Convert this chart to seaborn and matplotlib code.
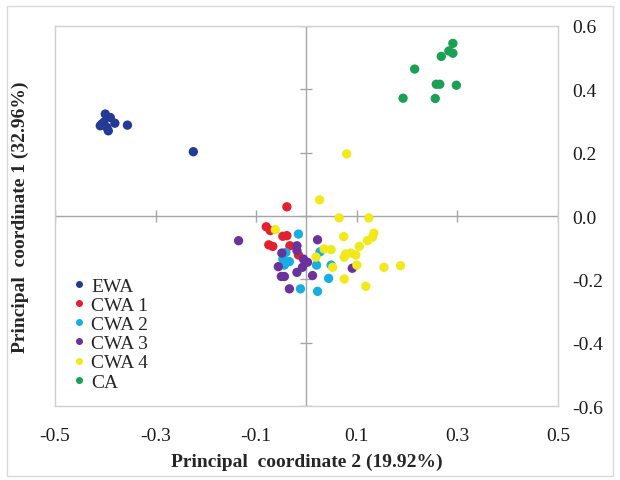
import pandas as pd
import matplotlib
matplotlib.use("Agg")
import matplotlib.pyplot as plt
import seaborn as sns
from matplotlib.patches import Rectangle

# point coordinates, one pair of lists per group
ewa_x = [-0.400, -0.390, -0.407, -0.410, -0.397, -0.381, -0.356, -0.394, -0.403, -0.225]
ewa_y = [0.322, 0.311, 0.290, 0.285, 0.280, 0.293, 0.287, 0.269, 0.296, 0.203]

cwa1_x = [-0.039, -0.080, -0.072, -0.047, -0.039, -0.075, -0.067, -0.033, -0.016]
cwa1_y = [0.029, -0.034, -0.046, -0.064, -0.062, -0.091, -0.096, -0.094, -0.123]

cwa2_x = [-0.016, 0.027, -0.041, -0.047, -0.041, -0.034, -0.044, 0.020, 0.049, 0.044, -0.012, 0.022]
cwa2_y = [-0.057, -0.113, -0.115, -0.136, -0.144, -0.144, -0.155, -0.155, -0.155, -0.197, -0.230, -0.238]

cwa3_x = [-0.135, 0.022, -0.019, -0.019, -0.049, -0.006, 0.002, -0.056, -0.008, 0.091,
          -0.019, 0.012, -0.050, -0.044, -0.034]
cwa3_y = [-0.078, -0.075, -0.094, -0.109, -0.117, -0.136, -0.146, -0.160, -0.162, -0.165,
          -0.178, -0.188, -0.191, -0.191, -0.230]

cwa4_x = [0.080, 0.026, 0.065, 0.124, -0.062, 0.134, 0.131, 0.121, 0.074, 0.105, 0.035, 0.049,
          0.078, 0.088, 0.098, 0.075, 0.019, 0.100, 0.052, 0.154, 0.187, 0.075, 0.118]
cwa4_y = [0.196, 0.051, -0.006, -0.006, -0.043, -0.054, -0.067, -0.078, -0.065, -0.096, -0.104, -0.106,
          -0.120, -0.117, -0.123, -0.130, -0.130, -0.155, -0.162, -0.162, -0.157, -0.199, -0.222]

ca_x = [0.291, 0.283, 0.291, 0.268, 0.215, 0.258, 0.265, 0.298, 0.192, 0.256]
ca_y = [0.545, 0.521, 0.514, 0.504, 0.464, 0.416, 0.416, 0.413, 0.372, 0.371]

groups = ["EWA", "CWA 1", "CWA 2", "CWA 3", "CWA 4", "CA"]
colors = ["#243A97", "#E5202E", "#19AEE3", "#6B329B", "#F2E91A", "#1AA053"]
x_ticks = [-0.5, -0.3, -0.1, 0.1, 0.3, 0.5]
y_ticks = [-0.6, -0.4, -0.2, 0.0, 0.2, 0.4, 0.6]

xs = [ewa_x, cwa1_x, cwa2_x, cwa3_x, cwa4_x, ca_x]
ys = [ewa_y, cwa1_y, cwa2_y, cwa3_y, cwa4_y, ca_y]
df = pd.concat([pd.DataFrame({"pc2": x, "pc1": y, "group": g}) for g, x, y in zip(groups, xs, ys)],
               ignore_index=True)

sns.set_style("white")
plt.rcParams["font.family"] = ["Liberation Serif", "DejaVu Serif"]

fig = plt.figure(figsize=(6.2, 4.81), dpi=100)
ax = fig.add_axes([0.0887, 0.1538, 0.9 - 0.0887, 0.9439 - 0.1538])

# axes crossing at zero, with cross tick marks
ax.axhline(0, color="#A6A6A6", lw=1, zorder=1)
ax.axvline(0, color="#A6A6A6", lw=1, zorder=1)
ax.plot(x_ticks, [0] * len(x_ticks), ls="none", marker="|", ms=9, mew=1, color="#A6A6A6", zorder=1)
ax.plot([0] * len(y_ticks), y_ticks, ls="none", marker="_", ms=9, mew=1, color="#A6A6A6", zorder=1)

sns.scatterplot(data=df, x="pc2", y="pc1", hue="group", hue_order=groups,
                palette=dict(zip(groups, colors)), s=45, edgecolor="none", ax=ax, zorder=3)

ax.set_xlim(-0.5, 0.5)
ax.set_ylim(-0.6, 0.6)
ax.set_xticks(x_ticks)
ax.set_xticklabels([f"{t:.1f}" for t in x_ticks])
ax.set_yticks(y_ticks)
ax.set_yticklabels([f"{t:.1f}" for t in y_ticks])
ax.yaxis.tick_right()
ax.tick_params(length=0, labelsize=14, colors="#1a1a1a")
ax.tick_params(axis="x", pad=15)
ax.tick_params(axis="y", pad=10)
for sp in ax.spines.values():
    sp.set_color("#D0D0D0")
    sp.set_linewidth(1)

ax.set_xlabel("Principal  coordinate 2 (19.92%)", fontsize=14, fontweight="bold", labelpad=6)
ax.yaxis.set_label_position("left")
ax.set_ylabel("Principal  coordinate 1 (32.96%)", fontsize=14, fontweight="bold")
ax.yaxis.set_label_coords(-0.052, 0.5)

handles, labels = ax.get_legend_handles_labels()
leg = ax.legend(handles, labels, loc="lower left", bbox_to_anchor=(0.002, 0.005), frameon=False,
                fontsize=14, labelspacing=0.08, handletextpad=0.1, handlelength=1.0,
                borderpad=0.2, markerscale=0.75)

# outer chart-area border
fig.patches.append(Rectangle((7 / 620, 4 / 481), 606 / 620, 470 / 481, transform=fig.transFigure,
                             fill=False, edgecolor="#D9D9D9", lw=1))

fig.savefig("out.png", dpi=100)
plt.close(fig)
